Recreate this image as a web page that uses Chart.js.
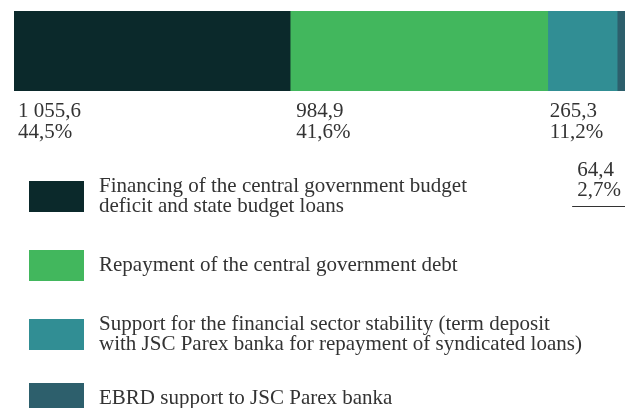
<!DOCTYPE html>
<html>
<head>
<meta charset="utf-8">
<script src="https://cdn.jsdelivr.net/npm/chart.js@4.4.1/dist/chart.umd.min.js"></script>
<style>
    html, body { margin: 0; padding: 0; background: #fff; overflow: hidden; }
    #wrap { width: 640px; height: 408px; }
</style>
</head>
<body>
<div id="wrap"><canvas id="grafik" width="640" height="408"></canvas></div>
<script>
// data (millions of lats)
const kategori = ['Total'];
const nilai = [1055.6, 984.9, 265.3, 64.4];
const persen = [44.5, 41.6, 11.2, 2.7];
const legendaTeks = [
    ['Financing of the central government budget', 'deficit and state budget loans'],
    ['Repayment of the central government debt'],
    ['Support for the financial sector stability (term deposit', 'with JSC Parex banka for repayment of syndicated loans)'],
    ['EBRD support to JSC Parex banka']
];
const warna = ['#0b292b', '#42b75d', '#318e94', '#2d5f6c'];

const FONT = '21px "Liberation Serif", serif';
const TEKS = '#333333';

function formatAngka(v) {
    const [bulat, des] = v.toFixed(1).split('.');
    return bulat.replace(/\B(?=(\d{3})+(?!\d))/g, ' ') + ',' + des;
}

// labels under the bar + legend drawn by hand
const labelPlugin = {
    id: 'labelPlugin',
    afterDraw(chart) {
        const ctx = chart.ctx;
        const area = chart.chartArea;
        ctx.save();
        ctx.font = FONT;
        ctx.fillStyle = TEKS;
        ctx.textBaseline = 'alphabetic';

        const geser = [4, 6, 2];
        nilai.forEach((v, i) => {
            const el = chart.getDatasetMeta(i).data[0];
            const kiri = Math.min(el.base, el.x);
            const teks1 = formatAngka(v);
            const teks2 = persen[i].toFixed(1).replace('.', ',') + '%';
            if (i < 3) {
                ctx.fillText(teks1, kiri + geser[i], area.bottom + 26);
                ctx.fillText(teks2, kiri + geser[i], area.bottom + 47);
            } else {
                ctx.fillText(teks1, kiri - 40, area.bottom + 85);
                ctx.fillText(teks2, kiri - 40, area.bottom + 105);
                ctx.strokeStyle = TEKS;
                ctx.lineWidth = 1;
                ctx.beginPath();
                ctx.moveTo(kiri - 45, area.bottom + 115.5);
                ctx.lineTo(kiri + 20, area.bottom + 115.5);
                ctx.stroke();
            }
        });

        // legend
        const tops = [181, 250, 319, 383];
        legendaTeks.forEach((baris, i) => {
            const top = tops[i];
            ctx.fillStyle = warna[i];
            ctx.fillRect(29, top, 55, 31);
            ctx.fillStyle = TEKS;
            const tengah = top + 15.5;
            const awal = tengah + 5 - (baris.length - 1) * 10;
            baris.forEach((t, j) => ctx.fillText(t, 99, awal + j * 20));
        });
        ctx.restore();
    }
};

const ctx = document.getElementById('grafik').getContext('2d');
new Chart(ctx, {
    type: 'bar',
    data: {
        labels: kategori,
        datasets: nilai.map((v, i) => ({
            label: legendaTeks[i].join(' '),
            data: [v],
            backgroundColor: warna[i],
            borderWidth: 0,
            barPercentage: 1,
            categoryPercentage: 1
        }))
    },
    options: {
        indexAxis: 'y',
        responsive: false,
        animation: false,
        layout: { padding: { left: 14, right: 6, top: 11, bottom: 317 } },
        scales: {
            x: { stacked: true, display: false, min: 0, max: nilai.reduce((a, b) => a + b, 0) },
            y: { stacked: true, display: false }
        },
        plugins: {
            legend: { display: false },
            tooltip: { enabled: false }
        }
    },
    plugins: [labelPlugin]
});
</script>
</body>
</html>
